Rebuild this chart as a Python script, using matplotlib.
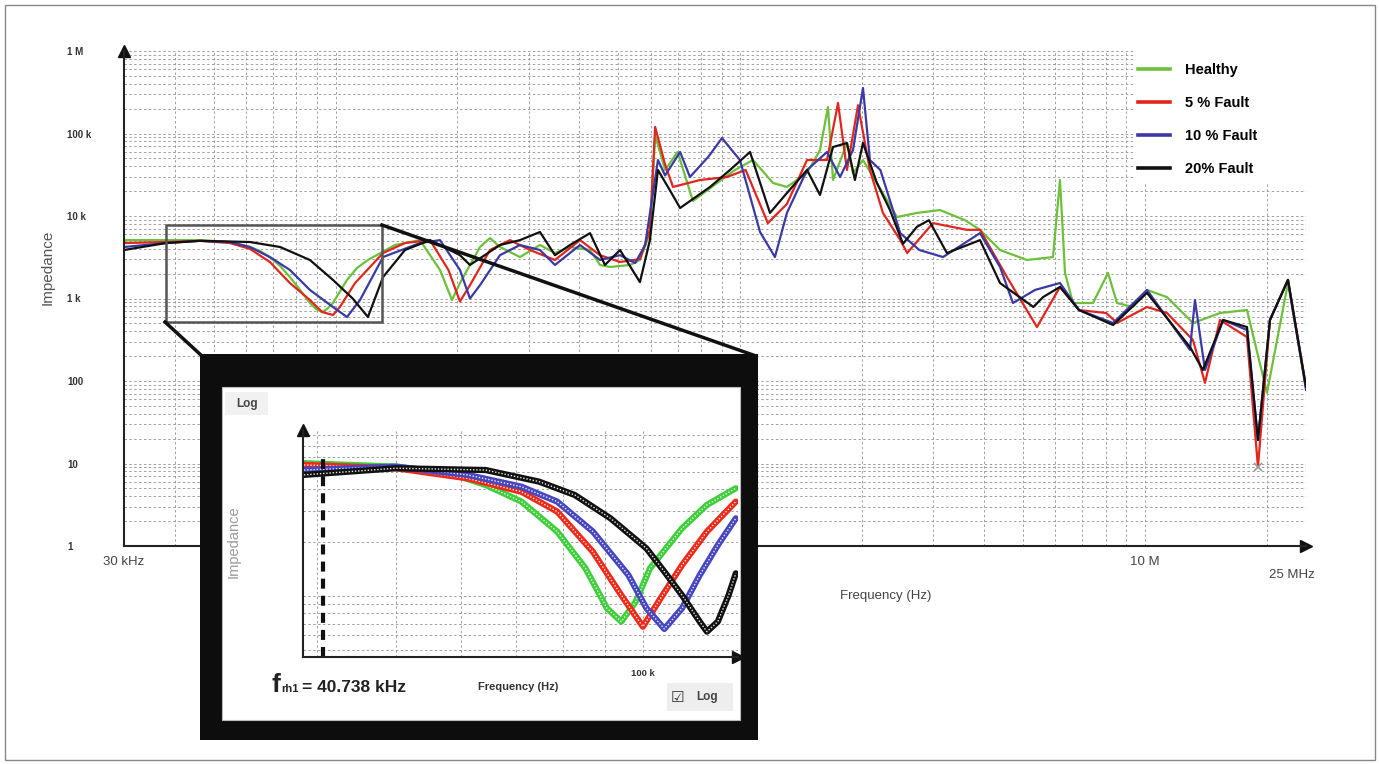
import numpy as np
import matplotlib.pyplot as plt
from matplotlib.lines import Line2D
from matplotlib.patches import Rectangle
from matplotlib.ticker import NullFormatter, FixedLocator

plt.rcParams['font.family'] = ['Liberation Sans', 'DejaVu Sans']

W, H = 1379, 764

# ---- main sweep, frequency in kHz, impedance in ohm ----
healthy_f = [30, 38.1, 46.2, 54.8, 61.4, 65.0, 68.8, 72.9, 77.1, 81.7, 86.4, 89.5, 92.6, 95.2, 98.5,
             106.7, 112.9, 120.2, 140.2, 161.6, 181.1, 193.9, 202.9, 227.4, 240.7, 254.8,
             285.5, 319.9, 348.4, 379.6, 425.3, 450.2, 476.5, 534, 565, 598,
             616, 652, 700, 764, 876, 970, 1075, 1205, 1304, 1462,
             1574, 1647, 1695, 1835, 1899, 2010, 2176, 2439, 2733, 3115,
             3592, 3912, 4384, 5110, 5926, 6166, 6345, 6640, 7441, 8104,
             8530, 9339, 10117, 11335, 13140, 15325, 17869, 20022, 22562, 25000]
healthy_z = [5100, 5100, 5100, 4840, 4210, 3770, 3180, 2480, 1820, 1270, 882, 746, 686, 746, 882,
             1680, 2340, 2930, 4450, 5100, 2220, 959, 1540, 4210, 5400, 4210,
             3180, 4450, 3560, 4210, 3870, 2550, 2410, 2550, 2930, 6200,
             95000, 36100, 59700, 15200, 25100, 36100, 47700, 25100, 22500, 33200,
             63000, 209000, 27300, 76700, 33200, 47700, 25100, 9700, 10900, 11800,
             8900, 6800, 3870, 2930, 3180, 27300, 2040, 882, 882, 2040,
             882, 789, 1270, 1040, 505, 667, 725, 72, 1540, 85]

fault5_f = [30, 38.1, 46.2, 54.8, 61.4, 68.8, 77.1, 86.4, 92.6, 98.5,
            102.5, 111.7, 131, 148.4, 171.1, 190, 202.9, 214.8, 240.7, 269.7,
            302.2, 348.4, 401.8, 450.2, 504.4, 565, 598, 616, 652, 682,
            795, 927, 1031, 1170, 1304, 1462, 1638, 1744, 1835, 1954,
            2091, 2252, 2485, 2585, 2993, 3630, 3912, 4560, 5409, 6166,
            6870, 8020, 8530, 10117, 11335, 13140, 14070, 15325, 17869, 19022,
            20364, 22562, 25000]
fault5_z = [4700, 4840, 5000, 4700, 4000, 2770, 1540, 959, 686, 631,
            789, 1540, 3560, 4700, 5100, 2220, 920, 1450, 3870, 5100,
            3870, 2930, 5100, 3350, 2770, 3000, 6800, 120000, 42000, 22500,
            27300, 29700, 36100, 8200, 14000, 47700, 47700, 234000, 36100, 220000,
            36100, 10900, 5100, 3560, 8200, 6800, 6800, 1820, 451, 1380,
            725, 667, 505, 789, 667, 314, 95, 549, 341, 9.1,
            549, 1680, 85]

fault10_f = [30, 38.1, 46.2, 54.8, 61.4, 68.8, 77.1, 86.4, 98.5, 106.7,
             114.9, 131, 161.6, 181.1, 202.9, 214.8, 227.4, 254.8, 285.5, 319.9,
             348.4, 401.8, 450.2, 504.4, 550, 582, 626, 652, 710, 751,
             836, 901, 998, 1119, 1218, 1304, 1462, 1638, 1764, 1899,
             2010, 2091, 2219, 2485, 2769, 3169, 3912, 4384, 4719, 5350,
             6166, 6870, 8340, 10117, 12919, 13290, 14070, 15600, 17869, 19022,
             20364, 22562, 25000]
fault10_z = [4210, 4700, 5000, 4840, 4210, 3180, 2220, 1270, 789, 597,
             959, 3180, 4700, 5100, 2220, 1000, 1450, 3350, 4450, 3870,
             2550, 4450, 2930, 3350, 2690, 4450, 47700, 31000, 59700, 29700,
             53000, 88000, 47700, 6400, 3180, 10900, 36100, 59700, 29700, 63000,
             356000, 47700, 36100, 6200, 3870, 3180, 6200, 2410, 882, 1270,
             1540, 725, 505, 1270, 238, 959, 136, 549, 415, 19.3,
             549, 1680, 78]

fault20_f = [30, 38.1, 46.2, 61.4, 72.9, 86.4, 98.5, 110.2, 120.2, 131,
             148.4, 171.1, 202.9, 214.8, 254.8, 285.5, 319.9, 348.4, 379.6, 425.3,
             463, 504.4, 565, 598, 626, 670, 710, 842, 943, 1057,
             1184, 1304, 1462, 1574, 1695, 1835, 1920, 2010, 2176, 2344,
             2524, 2733, 2925, 3240, 3912, 4384, 5300, 5600, 6166, 6870,
             8340, 10117, 12919, 13900, 15600, 17869, 19022, 20364, 22562, 25000]
fault20_z = [3870, 4700, 5000, 4840, 4210, 2930, 1680, 1000, 597, 1820,
             3870, 5100, 3350, 2550, 4450, 5100, 6400, 3350, 4450, 6200,
             2550, 3870, 1580, 5100, 36100, 20500, 12500, 22500, 36100, 59700,
             10900, 19000, 36100, 18000, 68600, 76700, 27300, 76700, 25100, 11800,
             4600, 7400, 8900, 3560, 5100, 1540, 789, 1040, 1380, 725,
             477, 1170, 258, 136, 549, 451, 19.3, 549, 1680, 85]

# ---- zoomed first resonance (inset), kHz / ohm ----
zoom_healthy_f = [38.6, 50.0, 58.2, 64.3, 71.1, 78.6, 85.1, 90.4, 94.1, 98.0, 102.0, 111.6, 119.7, 129.8]
zoom_healthy_z = [5570, 5330, 4890, 4200, 3390, 2300, 1430, 853, 717, 929, 1430, 2400, 3250, 4030]
zoom_fault5_f = [38.6, 50.0, 61.1, 71.1, 78.6, 86.9, 94.1, 100.0, 105.1, 111.6, 119.7, 129.8]
zoom_fault5_z = [5450, 5220, 4580, 3850, 2980, 1770, 1010, 672, 971, 1490, 2300, 3390]
zoom_fault10_f = [38.6, 50.0, 61.1, 71.1, 78.6, 86.9, 96.0, 101.0, 106.2, 111.6, 117.3, 123.4, 129.8]
zoom_fault10_z = [5100, 5330, 4790, 4110, 3390, 2300, 1310, 853, 653, 853, 1310, 1930, 2730]
zoom_fault20_f = [38.6, 50.0, 64.3, 74.7, 82.6, 91.3, 101.0, 106.2, 111.6, 117.3, 119.7, 123.4, 127.2, 129.8]
zoom_fault20_z = [4790, 5220, 5100, 4390, 3690, 2730, 1850, 1370, 1010, 717, 630, 717, 1010, 1340]
f_rh1 = 40.738  # kHz

labels = ['Healthy', '5 % Fault', '10 % Fault', '20% Fault']
colors = ['#6cc03a', '#e2261d', '#3a3aa6', '#111111']
zoom_colors = ['#3fcf3a', '#ee2a1a', '#4646c0', '#111111']


def fx(px):
    return px / W


def fy(py):
    return 1 - py / H


fig = plt.figure(figsize=(W / 100, H / 100), dpi=100)

# ---------------- main chart ----------------
ax = fig.add_axes([fx(124), fy(546), fx(1306) - fx(124), fy(51) - fy(546)])
ax.set_xscale('log')
ax.set_yscale('log')
ax.set_xlim(30e3, 25e6)
ax.set_ylim(1, 1e6)

ax.xaxis.set_major_locator(FixedLocator([3e4, 1e5, 1e6, 1e7]))
ax.set_xticklabels(['30 kHz', '', '', '10 M'])
ax.set_yticks([1, 10, 100, 1e3, 1e4, 1e5, 1e6],
              ['1', '10', '100', '1 k', '10 k', '100 k', '1 M'])
ax.xaxis.set_minor_formatter(NullFormatter())
ax.yaxis.set_minor_formatter(NullFormatter())
ax.tick_params(which='both', length=0)
ax.tick_params(axis='x', labelsize=9.5, labelcolor='#444', pad=7)
ax.tick_params(axis='y', labelsize=7, labelcolor='#333', pad=41)
for t in ax.get_yticklabels():
    t.set_ha('left')
    t.set_fontweight('bold')
fig.text(fx(1292), fy(575), '25 MHz', size=9.5, color='#444', ha='center', va='center')

ax.grid(True, which='both', color='#a0a0a0', linestyle=(0, (2.5, 2.5)), linewidth=0.7)
ax.xaxis.get_major_ticks()[0].gridline.set_visible(False)

for s in ['top', 'right']:
    ax.spines[s].set_visible(False)
for s in ['left', 'bottom']:
    ax.spines[s].set_linewidth(1.5)
    ax.spines[s].set_color('#222')
ax.plot([0], [1], marker='^', color='#111', ms=9, transform=ax.transAxes, clip_on=False)
ax.plot([1], [0], marker='>', color='#111', ms=9, transform=ax.transAxes, clip_on=False)

series = [(healthy_f, healthy_z), (fault5_f, fault5_z), (fault10_f, fault10_z), (fault20_f, fault20_z)]
for (f, z), c, lab in zip(series, colors, labels):
    ax.plot(np.array(f) * 1e3, z, color=c, lw=1.6, label=lab)

i_min = int(np.argmin(fault5_z))
ax.plot(fault5_f[i_min] * 1e3, fault5_z[i_min], marker='x', color='#999', ms=6, mew=1.2, zorder=5)

ax.set_ylabel('Impedance', size=11, color='#555')
ax.yaxis.set_label_coords(-0.0584, 0.564)
ax.set_xlabel('Frequency (Hz)', size=9.5, color='#444')
ax.xaxis.set_label_coords(0.644, -0.089)

# white area behind the legend
ax.add_patch(Rectangle((fx(1133), fy(184)), fx(1314) - fx(1133), fy(46) - fy(184),
                       transform=fig.transFigure, facecolor='white', edgecolor='none',
                       zorder=1.8, clip_on=False))
handles = [Line2D([], [], color=c, lw=2.6) for c in colors]
ax.legend(handles, labels, loc='upper left', bbox_to_anchor=(fx(1138), fy(63)),
          bbox_transform=fig.transFigure, frameon=False, borderpad=0, borderaxespad=0,
          prop={'weight': 'bold', 'size': 10.5}, handlelength=2.2, handletextpad=1.0,
          labelspacing=1.3)

# ---------------- zoom box and connectors ----------------
fig.add_artist(Rectangle((fx(166), fy(322)), fx(382) - fx(166), fy(225) - fy(322),
                         transform=fig.transFigure, fill=False, ec='#555', lw=1.8, zorder=2))
fig.add_artist(Line2D([fx(165), fx(202)], [fy(322), fy(356)], transform=fig.transFigure,
                      color='#111', lw=2.5, zorder=2))
fig.add_artist(Line2D([fx(382), fx(756)], [fy(225), fy(356)], transform=fig.transFigure,
                      color='#111', lw=2.5, zorder=2))

# ---------------- inset frame ----------------
fig.add_artist(Rectangle((fx(200), fy(740)), fx(758) - fx(200), fy(354) - fy(740),
                         transform=fig.transFigure, facecolor='#0d0d0d', edgecolor='none', zorder=4))
fig.add_artist(Rectangle((fx(222), fy(720)), fx(740) - fx(222), fy(387) - fy(720),
                         transform=fig.transFigure, facecolor='white', edgecolor='#bbb', lw=0.8, zorder=4))

ax2 = fig.add_axes([fx(303), fy(657), fx(738) - fx(303), fy(430) - fy(657)])
ax2.set_zorder(5)
ax2.patch.set_alpha(0)
ax2.set_xscale('log')
ax2.set_yscale('log')
ax2.set_xlim(38.5e3, 130.6e3)
ax2.set_ylim(454, 8560)
ax2.set_xticks([1e5], ['100 k'])
ax2.xaxis.set_minor_formatter(NullFormatter())
ax2.yaxis.set_major_formatter(NullFormatter())
ax2.yaxis.set_minor_formatter(NullFormatter())
ax2.tick_params(which='both', length=0)
ax2.tick_params(axis='x', labelsize=6.8, labelcolor='#333', pad=9)
for t in ax2.get_xticklabels():
    t.set_fontweight('bold')
ax2.grid(True, which='both', color='#a0a0a0', linestyle=(0, (2.5, 2.5)), linewidth=0.7)
for s in ['top', 'right']:
    ax2.spines[s].set_visible(False)
for s in ['left', 'bottom']:
    ax2.spines[s].set_linewidth(1.5)
    ax2.spines[s].set_color('#222')
ax2.plot([0], [1], marker='^', color='#111', ms=8, transform=ax2.transAxes, clip_on=False)
ax2.plot([1], [0], marker='>', color='#111', ms=8, transform=ax2.transAxes, clip_on=False)

zoom_series = [(zoom_healthy_f, zoom_healthy_z), (zoom_fault5_f, zoom_fault5_z),
               (zoom_fault10_f, zoom_fault10_z), (zoom_fault20_f, zoom_fault20_z)]
for (f, z), c in zip(zoom_series, zoom_colors):
    fh = np.array(f) * 1e3
    ax2.plot(fh, z, color=c, lw=4.5, solid_joinstyle='round', solid_capstyle='round')
    ax2.plot(fh, z, color='white', lw=1.0, linestyle=(0, (1, 1.3)), alpha=0.9)

ax2.axvline(f_rh1 * 1e3, ymin=0, ymax=0.89, color='#111', lw=3, linestyle=(0, (2.4, 1.7)))

# inset texts
fig.add_artist(Rectangle((fx(225), fy(415)), fx(268) - fx(225), fy(392) - fy(415),
                         transform=fig.transFigure, facecolor='#f1f1f1', edgecolor='none', zorder=5))
fig.text(fx(236), fy(404), 'Log', size=8.5, weight='bold', color='#444', va='center', zorder=6)
fig.text(fx(234), fy(542), 'Impedance', size=10.5, color='#999', rotation=90,
         ha='center', va='center', zorder=6)
fig.text(fx(518), fy(687), 'Frequency (Hz)', size=8, weight='bold', color='#333',
         ha='center', va='center', zorder=6)
fig.text(fx(271), fy(692), 'f', size=19, weight='bold', color='#222', va='baseline', zorder=6)
fig.text(fx(281), fy(692), 'rh1', size=8, weight='bold', color='#222', va='baseline', zorder=6)
fig.text(fx(302), fy(692), '= 40.738 kHz', size=12.5, weight='bold', color='#222',
         va='baseline', zorder=6)
fig.add_artist(Rectangle((fx(667), fy(711)), fx(733) - fx(667), fy(683) - fy(711),
                         transform=fig.transFigure, facecolor='#eeeeee', edgecolor='none', zorder=5))
fig.text(fx(671), fy(697), '\u2611', family='DejaVu Sans', size=11, color='#333', va='center', zorder=6)
fig.text(fx(696), fy(697), 'Log', size=8.5, weight='bold', color='#444', va='center', zorder=6)

# page border
fig.add_artist(Rectangle((fx(5), fy(760)), fx(1375) - fx(5), fy(5) - fy(760),
                         transform=fig.transFigure, fill=False, ec='#888', lw=1, zorder=7))

fig.savefig('out.png', dpi=100)
